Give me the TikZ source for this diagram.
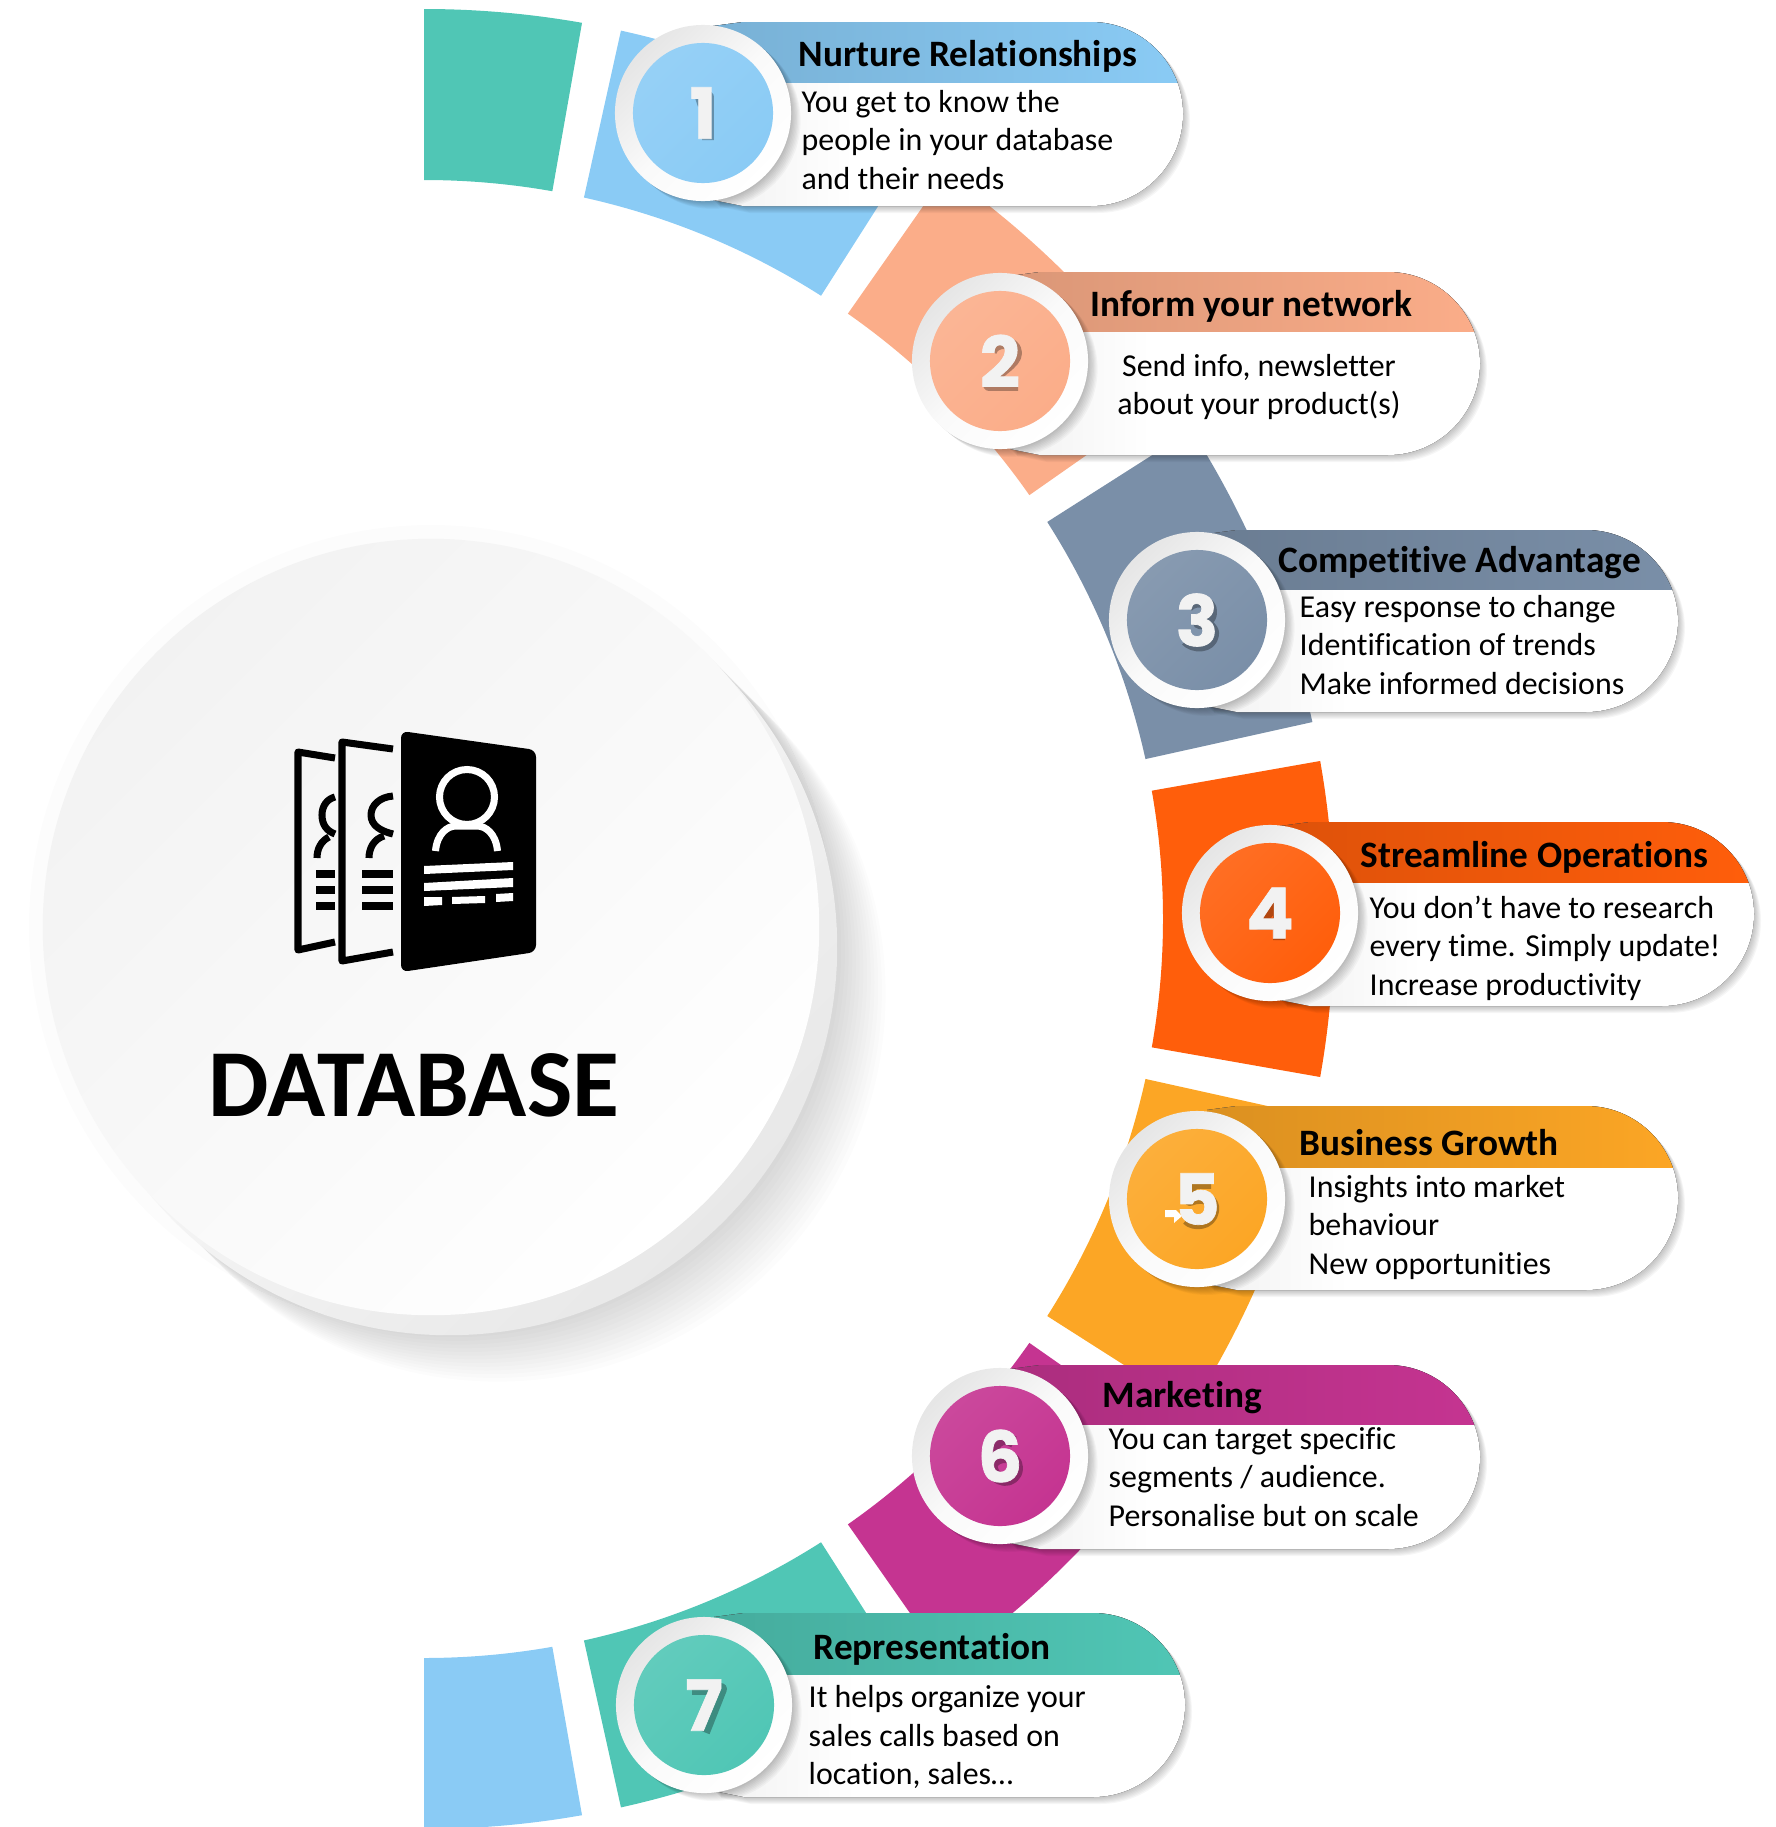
\documentclass[tikz,border=0pt]{standalone}
\usepackage{fontspec}
\setmainfont[Ligatures=NoCommon]{Carlito}
\newfontfamily\digitfont[BoldFeatures={FakeBold=1}]{Poppins}
\definecolor{ringblue}{HTML}{8ACBF5}
\definecolor{ringsalmon}{HTML}{FBAD89}
\definecolor{ringslate}{HTML}{7A8FA8}
\definecolor{ringorange}{HTML}{FF5E0B}
\definecolor{ringamber}{HTML}{FCA625}
\definecolor{ringmagenta}{HTML}{C53491}
\definecolor{ringteal}{HTML}{50C6B5}
\pgfdeclarehorizontalshading{pillbody}{100bp}{color(0bp)=(black!14); color(40bp)=(white); color(100bp)=(white)}
\def\pillpath{(\cx+10,\tp+4) -- (\cx+40,\tp) -- (\cx+200,\tp) [rounded corners=0.92cm] -- (\rt,\tp) -- (\rt,\bt) -- (\cx+200,\bt) [sharp corners] -- (\cx+40,\bt) -- (\cx+10,\bt-6)}
\tikzset{
	headtext/.style={inner sep=0pt,anchor=base west,font=\fontsize{10.6}{12}\selectfont\bfseries},
	bodytext/.style={inner sep=0pt,anchor=west,align=left,font=\fontsize{9.07}{10.95}\selectfont},
	numdisc/.style={circle,inner sep=0pt,minimum size=1.40cm},
	numring/.style={circle,inner sep=0pt,minimum size=1.76cm,left color=black!10,right color=white,middle color=white!98!black,shading angle=45},
	numtext/.style={inner sep=0pt,text=white!95!black,font=\fontsize{20}{20}\selectfont\digitfont\bfseries},
	digitshade/.style={draw=black,opacity=.3,line width=3.4pt,line join=round},
	icondark/.style={draw=black,line width=2pt,line join=round},
	iconlight/.style={draw=white,line width=2pt},
}
\begin{document}
\begin{tikzpicture}[x=0.01cm,y=-0.01cm]
	\useasboundingbox (0,0) rectangle (1775,1827);
	\begin{scope}[shift={(424,919)},y=0.01cm]
		\foreach \a/\b/\c in {80/90/ringteal,57.5/77.5/ringblue,35/55/ringsalmon,12.5/32.5/ringslate,-10/10/ringorange,-32.5/-12.5/ringamber,-55/-35/ringmagenta,-77.5/-57.5/ringteal,-90/-80/ringblue}
			\fill[\c] (\a:739) arc[start angle=\a,end angle=\b,radius=739] -- (\b:910) arc[start angle=\b,end angle=\a,radius=910] -- cycle;
	\end{scope}
	\fill[black!1] (431,927) circle[radius=402];
	\foreach \s in {1,...,18}
		\fill[black,opacity=.012] (431+3.7*\s,927+3.7*\s) circle[radius=388];
	\node[circle,inner sep=0pt,minimum size=7.76cm,left color=white,right color=black!9,shading angle=45] (rim) at (449,947) {};
	\node[circle,inner sep=0pt,minimum size=7.76cm,left color=black!5,middle color=white,right color=white,shading angle=45] (disc) at (431,927) {};
	\node[inner sep=0pt,font=\fontsize{27.3}{30}\selectfont\bfseries] (dbtitle) at (414,1085) {DATABASE};
	\draw[icondark] (393,749) -- (342,742) -- (342,961) -- (393,952);
	\draw[icondark] (335,758) -- (298,752) -- (298,950) -- (335,942);
	\fill[black,rounded corners=2pt] (401,731) -- (536,750) -- (536,952) -- (401,972) -- cycle;
	\draw[icondark] (393,796) .. controls (380,797) and (371,805) .. (371,815) .. controls (371,825) and (380,831) .. (393,834);
	\draw[icondark] (384,836) .. controls (374,839) and (369,848) .. (369,858);
	\draw[icondark] (335,797) .. controls (327,799) and (322,806) .. (322,815) .. controls (322,825) and (327,831) .. (335,834);
	\draw[icondark] (329,837) .. controls (321,841) and (317,849) .. (317,858);
	\foreach \y in {874,890,906} {
		\draw[icondark,line join=miter] (362,\y) -- (393,\y);
		\draw[icondark,line join=miter] (316,\y) -- (335,\y);
	}
	\draw[iconlight] (467,797) circle[radius=27.5];
	\draw[iconlight] (435.5,851) .. controls (437,834) and (447,826) .. (456,826) -- (477,826) .. controls (486,826) and (496,834) .. (497.5,851);
	\fill[white] (424,866) -- (513,862) -- (513,870) -- (424,874) -- cycle;
	\fill[white] (424,883) -- (513,878) -- (513,887) -- (424,891) -- cycle;
	\fill[white] (424,897) -- (442,897) -- (442,905) -- (424,906) -- cycle;
	\fill[white] (452,897) -- (485,896) -- (485,903) -- (452,904) -- cycle;
	\fill[white] (496,894) -- (513,893) -- (513,901) -- (496,902) -- cycle;
	\foreach \n/\cx/\cy/\tp/\bt/\hb/\rt/\c in {1/703/113/22/206/82/1183/ringblue,2/1000/361/272/455/331/1480/ringsalmon,3/1197/620/530/712/589/1678/ringslate,4/1270/913/822/1006/882/1754/ringorange,5/1197/1199/1106/1290/1167/1678/ringamber,6/1000/1456/1365/1549/1424/1480/ringmagenta,7/704/1705/1613/1797/1674/1185/ringteal} {
		\foreach \s in {1,...,7}
			\fill[black,opacity=.035,shift={(\s,\s)}] \pillpath;
		\fill[shading=pillbody] \pillpath;
		\begin{scope}
			\clip (\cx,\tp-2) rectangle (\rt+2,\hb);
			\fill[left color=\c!87!black,right color=\c] \pillpath;
		\end{scope}
		\foreach \s in {1,...,8}
			\fill[black,opacity=.03] (\cx+1.2*\s,\cy+1*\s) circle[radius=88];
		\node[numring] (ring\n) at (\cx,\cy) {};
		\node[numdisc,left color=\c!90!white,right color=\c,shading angle=45] (dot\n) at (ring\n) {};
	}
	\draw[digitshade,shift={(ring1)}] (-7,-12) -- (5,-16) -- (5,27);
	\draw[digitshade,shift={(ring2)}] (-9,-10) .. controls (-6,-21) and (16,-21) .. (16,-8) .. controls (16,3) and (-4,10) .. (-11,24) -- (18,24);
	\draw[digitshade,shift={(ring3)}] (-9,-14) .. controls (-2,-22) and (15,-19) .. (14,-8) .. controls (14,0) and (8,3) .. (2,3) .. controls (10,3) and (17,8) .. (16,15) .. controls (14,28) and (-4,28) .. (-11,20);
	\draw[digitshade,shift={(ring4)}] (9,27) -- (9,-16) -- (-11,11) -- (18,11);
	\draw[digitshade,shift={(ring5)}] (14,-16) -- (-6,-16) -- (-7,1) .. controls (8,-5) and (18,2) .. (16,12) .. controls (14,26) and (-4,27) .. (-10,20);
	\draw[digitshade,shift={(ring6)}] (14,-14) .. controls (2,-22) and (-9,-14) .. (-9,5) .. controls (-9,30) and (17,28) .. (17,12) .. controls (17,-2) and (-3,-2) .. (-8,8);
	\draw[digitshade,shift={(ring7)}] (-12,-16) -- (17,-16) -- (0,27);
	\foreach \n in {1,...,7}
		\node[numtext] (num\n) at (ring\n) {\n};
	\fill[white] (1165,1210) -- (1176,1210) -- (1182,1216) -- (1174,1223) -- (1174,1217) -- (1165,1217) -- cycle;
	\node[headtext] (head1) at (798,66) {Nurture Relationships};
	\node[headtext] (head2) at (1090,316) {Inform your network};
	\node[headtext] (head3) at (1278,572) {Competitive Advantage};
	\node[headtext] (head4) at (1360,867) {Streamline Operations};
	\node[headtext] (head5) at (1299,1155) {Business Growth};
	\node[headtext] (head6) at (1102,1407) {Marketing};
	\node[headtext] (head7) at (813,1659) {Representation};
	\node[bodytext] (body1) at (801,140) {You get to know the\\people in your database\\and their needs};
	\node[bodytext,anchor=center,align=center] (body2) at (1259,387) {Send info, newsletter\\about your product(s)};
	\node[bodytext] (body3) at (1299,645) {Easy response to change\\Identification of trends\\Make informed decisions};
	\node[bodytext] (body4) at (1369,948) {You don’t have to research\\every time. Simply update!\\Increase productivity};
	\node[bodytext] (body5) at (1308,1227) {Insights into market\\behaviour\\New opportunities};
	\node[bodytext] (body6) at (1108,1477) {You can target specific\\segments / audience.\\Personalise but on scale};
	\node[bodytext] (body7) at (808,1737) {It helps organize your\\sales calls based on\\location, sales…};
\end{tikzpicture}
\end{document}
